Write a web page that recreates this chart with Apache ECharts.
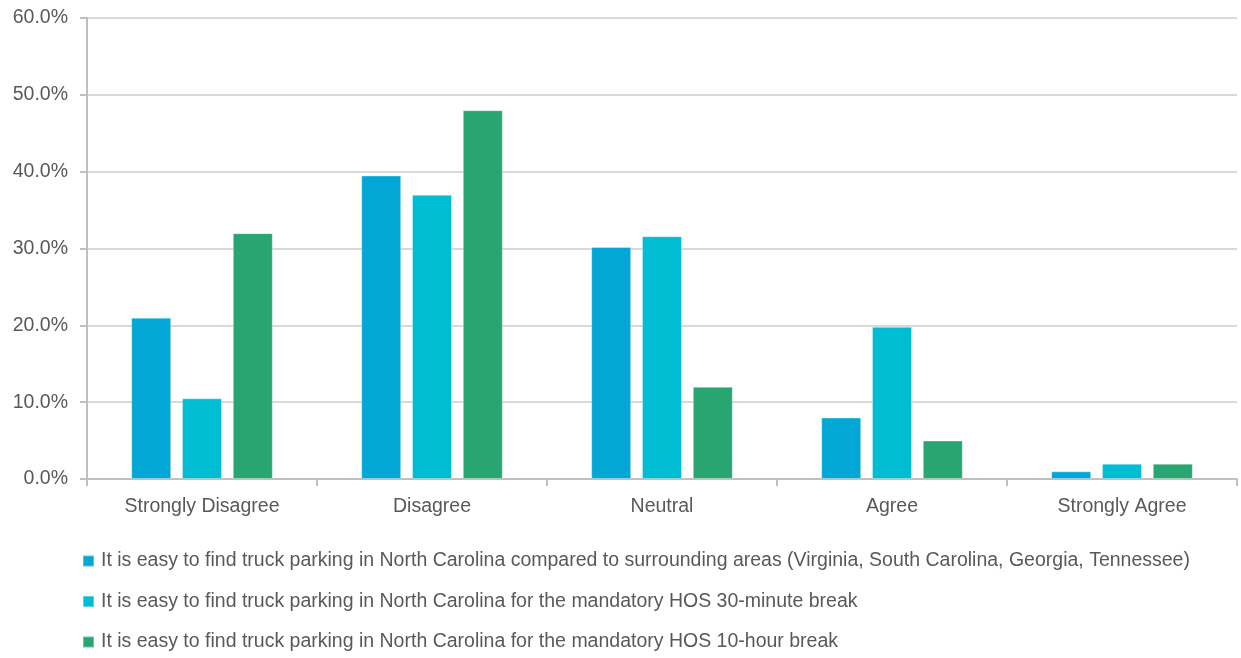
<!DOCTYPE html>
<html>
<head>
<meta charset="utf-8">
<script src="https://cdn.jsdelivr.net/npm/echarts@6/dist/echarts.min.js"></script>
<style>
  html, body { margin: 0; padding: 0; background: #ffffff; }
  #chart { width: 1241px; height: 658px; }
</style>
</head>
<body>
<div id="chart"></div>
<script>
// Survey response categories
const categories = ['Strongly Disagree', 'Disagree', 'Neutral', 'Agree', 'Strongly Agree'];

// Share of respondents (%) for each statement
const seriesNames = [
  'It is easy to find truck parking in North Carolina compared to surrounding areas (Virginia, South Carolina, Georgia, Tennessee)',
  'It is easy to find truck parking in North Carolina for the mandatory HOS 30-minute break',
  'It is easy to find truck parking in North Carolina for the mandatory HOS 10-hour break'
];
const comparedToSurrounding = [21.0, 39.5, 30.2, 8.0, 1.0];
const break30Minute = [10.5, 37.0, 31.6, 19.8, 2.0];
const break10Hour = [32.0, 48.0, 12.0, 5.0, 2.0];

const colors = ['#02A7D5', '#00BDD3', '#29A572'];
const textColor = '#595959';
const fontFamily = '"Liberation Sans", Arial, sans-serif';
const fontSize = 19.5;

const chart = echarts.init(document.getElementById('chart'), null, { renderer: 'canvas' });

const values = [comparedToSurrounding, break30Minute, break10Hour];

chart.setOption({
  animation: false,
  color: colors,
  textStyle: { fontFamily: fontFamily, color: textColor },
  grid: { left: 87, right: 4, top: 18, height: 461 },
  legend: {
    orient: 'vertical',
    left: 77,
    top: 546,
    itemWidth: 11,
    itemHeight: 11,
    itemGap: 20.5,
    icon: 'rect',
    textStyle: { fontSize: fontSize, color: textColor, fontFamily: fontFamily, padding: [0, 0, 0, 2] },
    data: seriesNames
  },
  xAxis: {
    type: 'category',
    data: categories,
    axisLine: { lineStyle: { color: '#BFBFBF', width: 2 } },
    axisTick: { show: true, length: 7, lineStyle: { color: '#BFBFBF', width: 2 } },
    axisLabel: { fontSize: fontSize, color: textColor, margin: 18, fontFamily: fontFamily },
    splitLine: { show: false }
  },
  yAxis: {
    type: 'value',
    min: 0,
    max: 60,
    interval: 10,
    axisLine: { show: true, lineStyle: { color: '#BFBFBF', width: 2 } },
    axisTick: { show: true, length: 7, lineStyle: { color: '#BFBFBF', width: 2 } },
    axisLabel: {
      fontSize: fontSize,
      color: textColor,
      margin: 19,
      fontFamily: fontFamily,
      formatter: v => v.toFixed(1) + '%'
    },
    splitLine: { lineStyle: { color: '#D9D9D9', width: 2 } }
  },
  series: seriesNames.map((name, i) => ({
    name: name,
    type: 'bar',
    data: values[i],
    barWidth: 40,
    barGap: '27%',
    itemStyle: { color: colors[i], borderColor: 'rgba(255,255,255,0.35)', borderWidth: 1 }
  }))
});
</script>
</body>
</html>
